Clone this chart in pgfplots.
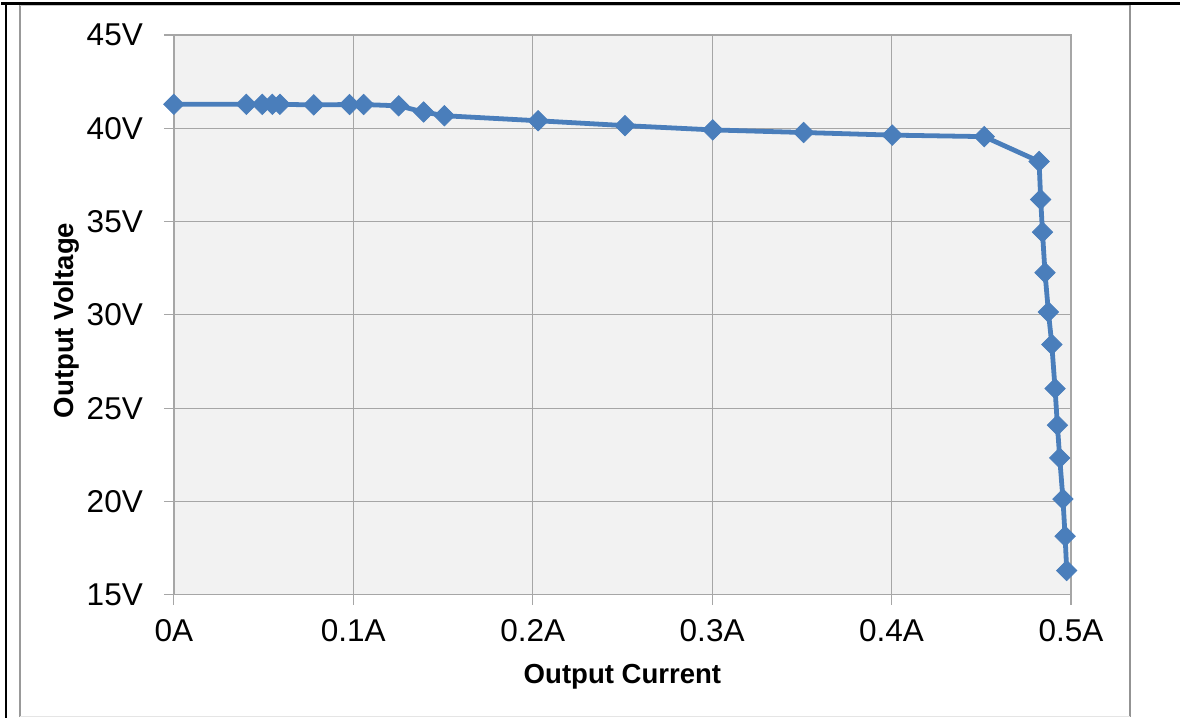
\documentclass[border=0pt]{standalone}
\usepackage{fontspec}
\setmainfont{Liberation Sans}
\usepackage{pgfplots}
\pgfplotsset{compat=1.18}
\definecolor{serblue}{HTML}{4A7EBB}
\definecolor{plotbg}{HTML}{F2F2F2}
\definecolor{gridc}{HTML}{A6A6A6}
\begin{document}
\begin{tikzpicture}[x=0.5pt,y=0.5pt]
% page frame
\path (0,0) rectangle (1181,719);
\draw[line width=1.2pt,black] (0,715.5) -- (1181,715.5);
\draw[line width=1.2pt,black] (5,0) -- (5,716);
\draw[line width=1pt,color=gray!80] (19,1) -- (19,713.5);
\draw[line width=0.6pt,color=gray!45] (19,713.5) -- (1131,713.5);
\draw[line width=1.3pt,color=gray!85] (1131,1) -- (1131,714);
\draw[line width=0.6pt,color=gray!20] (19,1) -- (1131,1);
\begin{axis}[
  at={(86.5pt,61.5pt)}, anchor=south west,
  scale only axis, width=449.5pt, height=280.5pt,
  xmin=0, xmax=0.5, ymin=15, ymax=45,
  xtick={0,0.1,0.2,0.3,0.4,0.5},
  xticklabels={0A,0.1A,0.2A,0.3A,0.4A,0.5A},
  ytick={15,20,25,30,35,40,45},
  yticklabels={15V,20V,25V,30V,35V,40V,45V},
  tick pos=left, tick align=outside,
  major tick length=5pt,
  tick style={gridc, line width=0.6pt},
  grid=major,
  major grid style={gridc, line width=0.6pt},
  axis line style={gridc, line width=0.7pt},
  axis background/.style={fill=plotbg},
  ticklabel style={font=\fontsize{15.8}{18}\selectfont, black},
  yticklabel style={anchor=east, xshift=-7pt},
  xticklabel style={anchor=north, yshift=-4pt},
  xlabel={Output Current},
  ylabel={Output Voltage},
  label style={font=\fontsize{13.8}{16}\bfseries, black},
  xlabel style={at={(axis description cs:0.5,-0.1586)}, anchor=base},
  ylabel style={at={(axis description cs:-0.1123,0.49)}, anchor=base},
  clip=false,
]
\addplot[serblue, line width=2.4pt, mark=square*,
  mark size=3.6pt, mark options={rotate=45, fill=serblue, draw=serblue, line width=0.4pt}]
  coordinates {
  (0,41.28) (0.0404,41.28) (0.0493,41.28) (0.0549,41.28) (0.0591,41.28)
  (0.0780,41.25) (0.0979,41.27) (0.1058,41.27) (0.1253,41.20) (0.1392,40.87)
  (0.1508,40.67) (0.2030,40.40) (0.2514,40.14) (0.3003,39.91) (0.3510,39.77)
  (0.4004,39.63) (0.4516,39.55) (0.4822,38.22) (0.4831,36.18) (0.4841,34.43)
  (0.4855,32.26) (0.4874,30.15) (0.4893,28.41) (0.4911,26.05) (0.4924,24.09)
  (0.4937,22.33) (0.4955,20.13) (0.4967,18.14) (0.4976,16.30)
  };
\end{axis}
\end{tikzpicture}
\end{document}
